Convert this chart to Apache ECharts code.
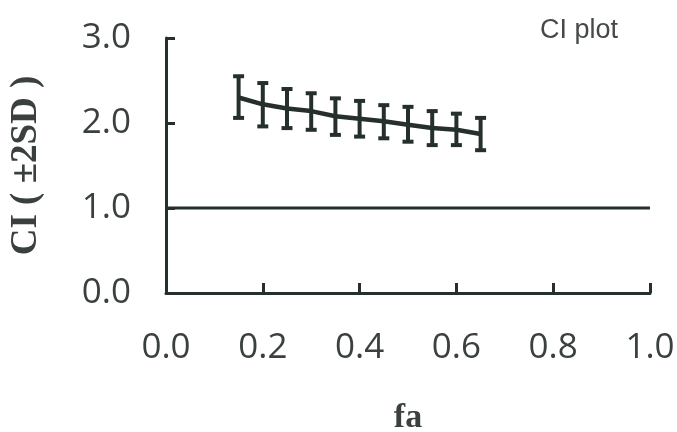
<!DOCTYPE html>
<html>
<head>
<meta charset="utf-8">
<script src="https://cdn.jsdelivr.net/npm/echarts@6/dist/echarts.min.js"></script>
<style>
  html, body { margin: 0; padding: 0; background: #fff; }
  #chart { width: 677px; height: 432px; }
</style>
</head>
<body>
<div id="chart"></div>
<script>
// fa values and the CI estimate with its ±2SD band
const fa      = [0.15, 0.20, 0.25, 0.30, 0.35, 0.40, 0.45, 0.50, 0.55, 0.60, 0.65];
const ciMean  = [2.30, 2.22, 2.17, 2.14, 2.08, 2.05, 2.02, 1.98, 1.94, 1.92, 1.87];
const ciLower = [2.06, 1.96, 1.94, 1.92, 1.86, 1.84, 1.82, 1.78, 1.74, 1.74, 1.68];
const ciUpper = [2.55, 2.47, 2.40, 2.35, 2.29, 2.26, 2.21, 2.19, 2.14, 2.11, 2.06];
const refLevel = 1.0;
const xTicks = [0, 0.2, 0.4, 0.6, 0.8, 1.0];
const yTicks = [0, 1, 2, 3];

const ink = '#25302c';
const textInk = '#3a403d';

const chart = echarts.init(document.getElementById('chart'), null, { renderer: 'canvas' });

const lineData = fa.map((x, i) => [x, ciMean[i]]);
const barData = fa.map((x, i) => [x, ciLower[i], ciUpper[i]]);

chart.setOption({
  animation: false,
  backgroundColor: '#ffffff',
  title: {
    text: 'CI plot',
    left: 535,
    top: 12,
    textStyle: { fontFamily: 'Liberation Sans', fontSize: 27, fontWeight: 'normal', color: '#454a47' }
  },
  grid: { left: 166, right: 27, top: 38, bottom: 139, containLabel: false, outerBoundsMode: 'none' },
  xAxis: {
    type: 'value',
    min: xTicks[0],
    max: xTicks[xTicks.length - 1],
    interval: 0.2,
    name: 'fa',
    nameLocation: 'middle',
    nameGap: 108,
    nameTextStyle: { fontFamily: 'Liberation Serif', fontWeight: 'bold', fontSize: 34, color: textInk },
    axisLine: { show: true, lineStyle: { color: ink, width: 3 } },
    axisTick: { show: true, inside: true, length: 10, lineStyle: { color: ink, width: 3 } },
    splitLine: { show: false },
    axisLabel: {
      margin: 38,
      fontFamily: 'Open Sans',
      fontSize: 35,
      color: textInk,
      formatter: v => v.toFixed(1)
    }
  },
  yAxis: {
    type: 'value',
    min: yTicks[0],
    max: yTicks[yTicks.length - 1],
    interval: 1,
    name: 'CI ( ±2SD )',
    nameLocation: 'middle',
    nameGap: 121,
    nameRotate: 90,
    nameTextStyle: { fontFamily: 'Liberation Serif', fontWeight: 'bold', fontSize: 37, color: textInk },
    axisLine: { show: true, lineStyle: { color: ink, width: 3 } },
    axisTick: { show: true, inside: true, length: 9, lineStyle: { color: ink, width: 3 } },
    splitLine: { show: false },
    axisLabel: {
      margin: 35,
      fontFamily: 'Open Sans',
      fontSize: 35,
      color: textInk,
      formatter: v => v.toFixed(1)
    }
  },
  series: [
    {
      // reference level CI = 1
      type: 'line',
      data: [[xTicks[0], refLevel], [xTicks[xTicks.length - 1], refLevel]],
      symbol: 'none',
      lineStyle: { color: ink, width: 3 },
      silent: true,
      z: 1
    },
    {
      type: 'line',
      data: lineData,
      symbol: 'none',
      lineStyle: { color: ink, width: 4.5 },
      z: 3
    },
    {
      // ±2SD error bars with caps
      type: 'custom',
      data: barData,
      z: 4,
      renderItem: function (params, api) {
        const x = api.value(0);
        const lo = api.coord([x, api.value(1)]);
        const hi = api.coord([x, api.value(2)]);
        const cap = 5.5;
        const style = { stroke: ink, lineWidth: 4, fill: null };
        return {
          type: 'group',
          children: [
            { type: 'line', shape: { x1: lo[0], y1: lo[1], x2: hi[0], y2: hi[1] }, style: style },
            { type: 'line', shape: { x1: hi[0] - cap, y1: hi[1], x2: hi[0] + cap, y2: hi[1] }, style: style },
            { type: 'line', shape: { x1: lo[0] - cap, y1: lo[1], x2: lo[0] + cap, y2: lo[1] }, style: style }
          ]
        };
      }
    }
  ]
});
</script>
</body>
</html>
